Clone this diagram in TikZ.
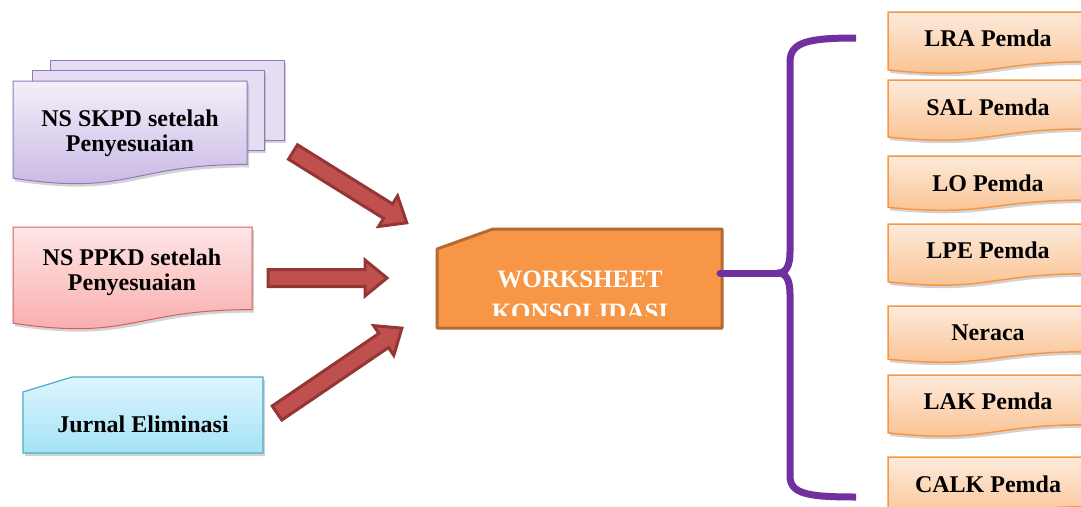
\documentclass[tikz,border=0pt]{standalone}
\usepackage{fontspec}
\setmainfont{Liberation Serif}
\usetikzlibrary{shadows}
\definecolor{arrfill}{HTML}{C0504D}
\definecolor{arrdraw}{HTML}{943634}
\definecolor{brk}{HTML}{7030A0}
\definecolor{wsfill}{HTML}{F79646}
\definecolor{wsdraw}{HTML}{B46A30}
\definecolor{orTop}{HTML}{FDEBDC}
\definecolor{orBot}{HTML}{FABF8C}
\definecolor{orDraw}{HTML}{F79646}
\definecolor{puTop}{HTML}{F3EFFA}
\definecolor{puBot}{HTML}{C6B4E3}
\definecolor{puDraw}{HTML}{9079BE}
\definecolor{rdTop}{HTML}{FFE6E6}
\definecolor{rdBot}{HTML}{F8A7A7}
\definecolor{rdDraw}{HTML}{D0605D}
\definecolor{cyTop}{HTML}{DDF5FD}
\definecolor{cyBot}{HTML}{A4E3F6}
\definecolor{cyDraw}{HTML}{4BACC6}
\newcommand\docshape[5]{%
  \path[#5] (#1,#2) -- ++(#3,0) -- ++(0,{0.802*#4})
    .. controls +({-0.5*#3},0) and +({0.5*#3},{0.173*#4}) .. (#1,{#2+0.934*#4}) -- cycle;}
\newcommand\blockarrow[4]{%
  \begin{scope}[shift={(#1,#2)},rotate=#3]
    \path[barrow] (0,-8.5) -- ({#4-22},-8.5) -- ({#4-22},-18) -- (#4,0)
      -- ({#4-22},18) -- ({#4-22},8.5) -- (0,8.5) -- cycle;
  \end{scope}}
\tikzset{
  shad/.style={drop shadow={opacity=0.35,shadow xshift=2pt,shadow yshift=-3pt}},
  txt/.style={font=\fontsize{24}{25}\selectfont\bfseries,align=center,inner sep=0pt},
  skpd/.style={shad,draw=puDraw,line width=1pt,top color=puTop,bottom color=puBot},
  skpdback/.style={shad,draw=puDraw,line width=1pt,fill=puTop!70!puBot},
  ppkd/.style={shad,draw=rdDraw,line width=1pt,top color=rdTop,bottom color=rdBot},
  jurnal/.style={shad,draw=cyDraw,line width=1.2pt,top color=cyTop,bottom color=cyBot},
  outbox/.style={shad,draw=orDraw,line width=1.5pt,top color=orTop,bottom color=orBot},
  wsbox/.style={draw=wsdraw,line width=3pt,fill=wsfill,line join=round},
  barrow/.style={draw=arrdraw,line width=3pt,fill=arrfill,line join=miter},
  bracket/.style={draw=brk,line width=7pt,line join=round}
}
\begin{document}
\begin{tikzpicture}[x=1pt,y=-1pt]
\useasboundingbox (0,0) rectangle (1081,506);
% SKPD stack
\path[skpdback] (50,60) rectangle (284,140);
\path[skpdback] (32,70) rectangle (264,150);
\docshape{13}{81}{234}{104}{skpd}
\node[txt] (skpd) at (130,133) {NS SKPD setelah\\Penyesuaian};
% PPKD
\docshape{13}{227}{239}{103}{ppkd}
\node[txt] (ppkd) at (132,272) {NS PPKD setelah\\Penyesuaian};
% Jurnal
\path[jurnal] (23,392) -- (72,377) -- (263,377) -- (263,453) -- (23,453) -- cycle;
\node[txt] (jurnal) at (143,424) {Jurnal Eliminasi};
% block arrows
\blockarrow{293}{152}{-31.9}{134}
\blockarrow{268}{278}{0}{119}
\blockarrow{277}{413}{34.2}{151}
% worksheet
\path[wsbox] (437,249) -- (493,229) -- (722,229) -- (722,328) -- (437,328) -- cycle;
\begin{scope}
  \clip (437,229) rectangle (722,315);
  \node[txt,text=white,font=\fontsize{25}{33}\selectfont\bfseries] (ws) at (580,296) {WORKSHEET\\KONSOLIDASI};
\end{scope}
\coordinate (wsR) at (720,273);
% bracket
\coordinate (tip) at (778,273);
\path[bracket] (856,38) .. controls (808,38) and (790,42) .. (790,62) -- (790,252)
  .. controls (790,266) and (786,273) .. (tip)
  .. controls (786,273) and (790,280) .. (790,294) -- (790,476)
  .. controls (790,494) and (808,497) .. (856,497);
\path[bracket,line cap=round] (wsR) -- (tip);
% output boxes
\docshape{888}{12}{200}{62}{outbox}
\node[txt] (lra) at (988,38) {LRA Pemda};
\docshape{888}{80}{200}{61}{outbox}
\node[txt] (sal) at (988,107) {SAL Pemda};
\docshape{888}{156}{200}{55}{outbox}
\node[txt] (lo) at (988,183) {LO Pemda};
\docshape{888}{224}{200}{62}{outbox}
\node[txt] (lpe) at (988,250) {LPE Pemda};
\docshape{888}{306}{200}{57}{outbox}
\node[txt] (neraca) at (988,333) {Neraca};
\docshape{888}{375}{200}{62}{outbox}
\node[txt] (lak) at (988,401) {LAK Pemda};
\docshape{888}{457}{200}{62}{outbox}
\node[txt] (calk) at (988,484) {CALK Pemda};
\end{tikzpicture}
\end{document}
